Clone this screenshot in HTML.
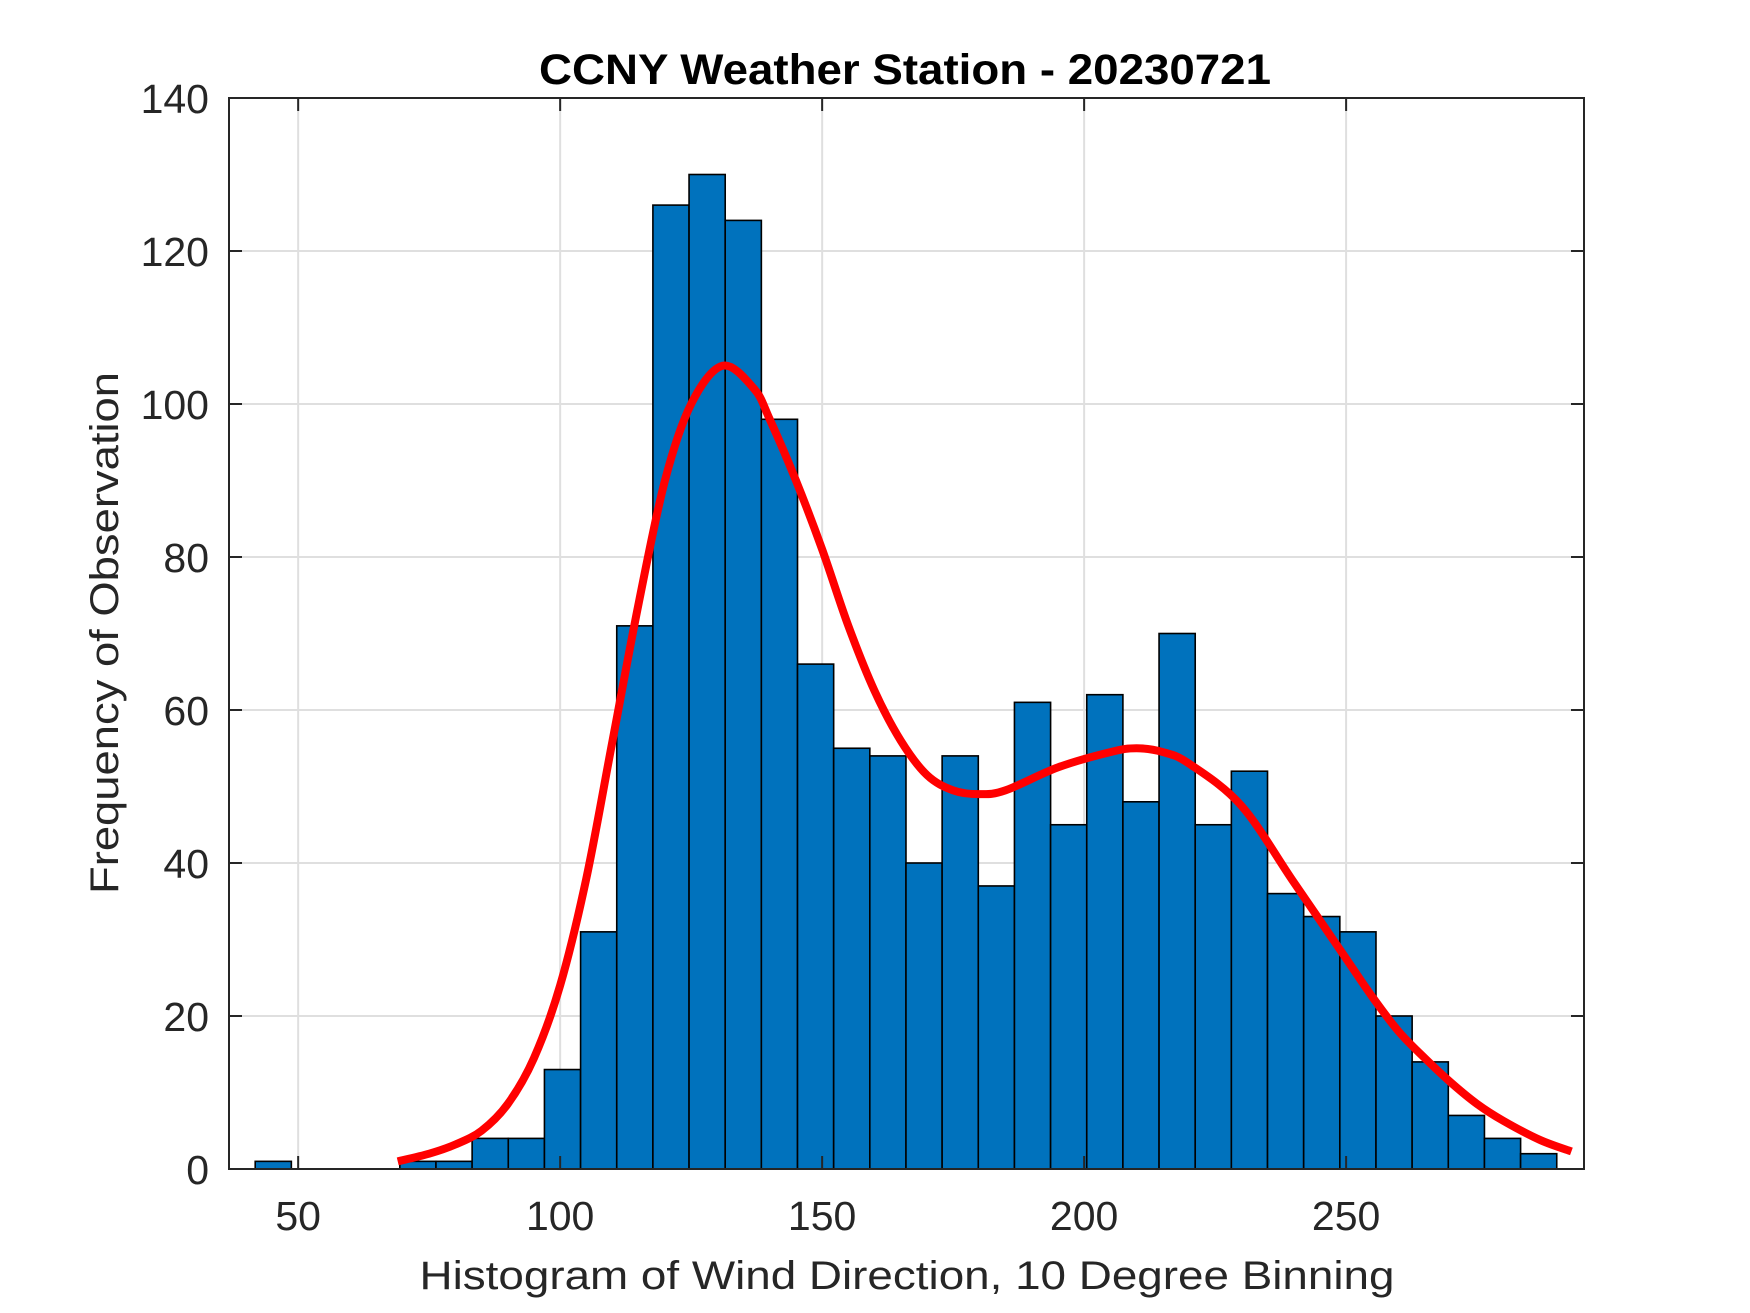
<!DOCTYPE html>
<html><head><meta charset="utf-8"><style>
html,body{margin:0;padding:0;background:#fff;}
svg{display:block;}
text{font-family:"Liberation Sans",Arial,sans-serif;fill:#262626;}
</style></head><body>
<svg id="chart" width="1750" height="1313" viewBox="0 0 1750 1313" xmlns="http://www.w3.org/2000/svg">
<rect width="1750" height="1313" fill="#fff"/>
<g id="grid"></g>
<g id="bars"></g>
<g id="curve"></g>
<g id="axes"></g>
<text x="905" y="84" text-anchor="middle" font-size="43" font-weight="bold" textLength="732" lengthAdjust="spacingAndGlyphs" style="fill:#000">CCNY Weather Station - 20230721</text>
<text x="907" y="1289" text-anchor="middle" font-size="40" textLength="975" lengthAdjust="spacingAndGlyphs">Histogram of Wind Direction, 10 Degree Binning</text>
<text transform="translate(118,633) rotate(-90)" text-anchor="middle" font-size="40" textLength="522" lengthAdjust="spacingAndGlyphs">Frequency of Observation</text>
</svg>
<script>
const binStart = 41.8;
const binWidth = 6.9;
const counts = [1,0,0,0,1,1,4,4,13,31,71,126,130,124,98,66,55,54,40,54,37,61,45,62,48,70,45,52,36,33,31,20,14,7,4,2];
const curveX = [69,75,80,85,90,95,100,105,110,115,120,125,131,137,140,145,150,155,160,165,170,175,180,185,195,205,210,215,220,230,240,250,255,260,265,270,275,280,287,293];
const curveY = [1,2,3.2,5,8.5,14.5,24,38,56,74,90,100,105,102,98,90,81,71,62.5,56,51.5,49.5,49,49.5,52.5,54.5,55,54.5,53,47.5,37.5,27.5,22.5,18,14.5,11.3,8.5,6.3,3.8,2.3];
const xTicks = [50,100,150,200,250];
const yTicks = [0,20,40,60,80,100,120,140];

const L=229,R=1584,T=98,B=1169,xmin=36.8,xmax=295.4,ymin=0,ymax=140;
const sx=v=>L+(v-xmin)/(xmax-xmin)*(R-L);
const sy=v=>B-(v-ymin)/(ymax-ymin)*(B-T);
const NS="http://www.w3.org/2000/svg";
function mk(tag,attrs,parent){const e=document.createElementNS(NS,tag);for(const k in attrs)e.setAttribute(k,attrs[k]);parent.appendChild(e);return e;}
const grid=document.getElementById('grid'),bars=document.getElementById('bars'),curve=document.getElementById('curve'),axes=document.getElementById('axes');

xTicks.forEach(t=>{
  const g=mk('line',{x1:sx(t),x2:sx(t),y1:T,y2:B,stroke:'#dfdfdf','stroke-width':2},grid);
  
  
});
yTicks.forEach(t=>{
  const g=mk('line',{x1:L,x2:R,y1:sy(t),y2:sy(t),stroke:'#dfdfdf','stroke-width':2},grid);
  
  
});

counts.forEach((c,i)=>{
  if(c<=0) return;
  const x0=sx(binStart+i*binWidth),x1=sx(binStart+(i+1)*binWidth);
  const r=mk('rect',{x:x0,y:sy(c),width:x1-x0,height:sy(0)-sy(c),fill:'#0072BD',stroke:'#000','stroke-width':1.6},bars);
  
  
});

const pts=curveX.map((x,i)=>[sx(x),sy(curveY[i])]);
let d='M'+pts[0][0]+','+pts[0][1];
for(let i=0;i<pts.length-1;i++){
  const p0=pts[Math.max(0,i-1)],p1=pts[i],p2=pts[i+1],p3=pts[Math.min(pts.length-1,i+2)];
  const c1=[p1[0]+(p2[0]-p0[0])/6,p1[1]+(p2[1]-p0[1])/6];
  const c2=[p2[0]-(p3[0]-p1[0])/6,p2[1]-(p3[1]-p1[1])/6];
  d+=' C'+c1+' '+c2+' '+p2;
}
const path=mk('path',{d:d,fill:'none',stroke:'#ff0000','stroke-width':8,'stroke-linejoin':'round'},curve);



const box=mk('rect',{x:L,y:T,width:R-L,height:B-T,fill:'none',stroke:'#262626','stroke-width':2},axes);


xTicks.forEach(t=>{
  mk('line',{x1:sx(t),x2:sx(t),y1:B,y2:B-13,stroke:'#262626','stroke-width':2},axes);
  mk('line',{x1:sx(t),x2:sx(t),y1:T,y2:T+13,stroke:'#262626','stroke-width':2},axes);
  const tx=mk('text',{x:sx(t),y:1230,'text-anchor':'middle','font-size':41},axes);
  tx.textContent=t;
  
  
});
yTicks.forEach(t=>{
  mk('line',{x1:L,x2:L+13,y1:sy(t),y2:sy(t),stroke:'#262626','stroke-width':2},axes);
  mk('line',{x1:R,x2:R-13,y1:sy(t),y2:sy(t),stroke:'#262626','stroke-width':2},axes);
  const tx=mk('text',{x:209,y:sy(t)+15,'text-anchor':'end','font-size':41},axes);
  tx.textContent=t;
  
  
});
</script>
</body></html>
